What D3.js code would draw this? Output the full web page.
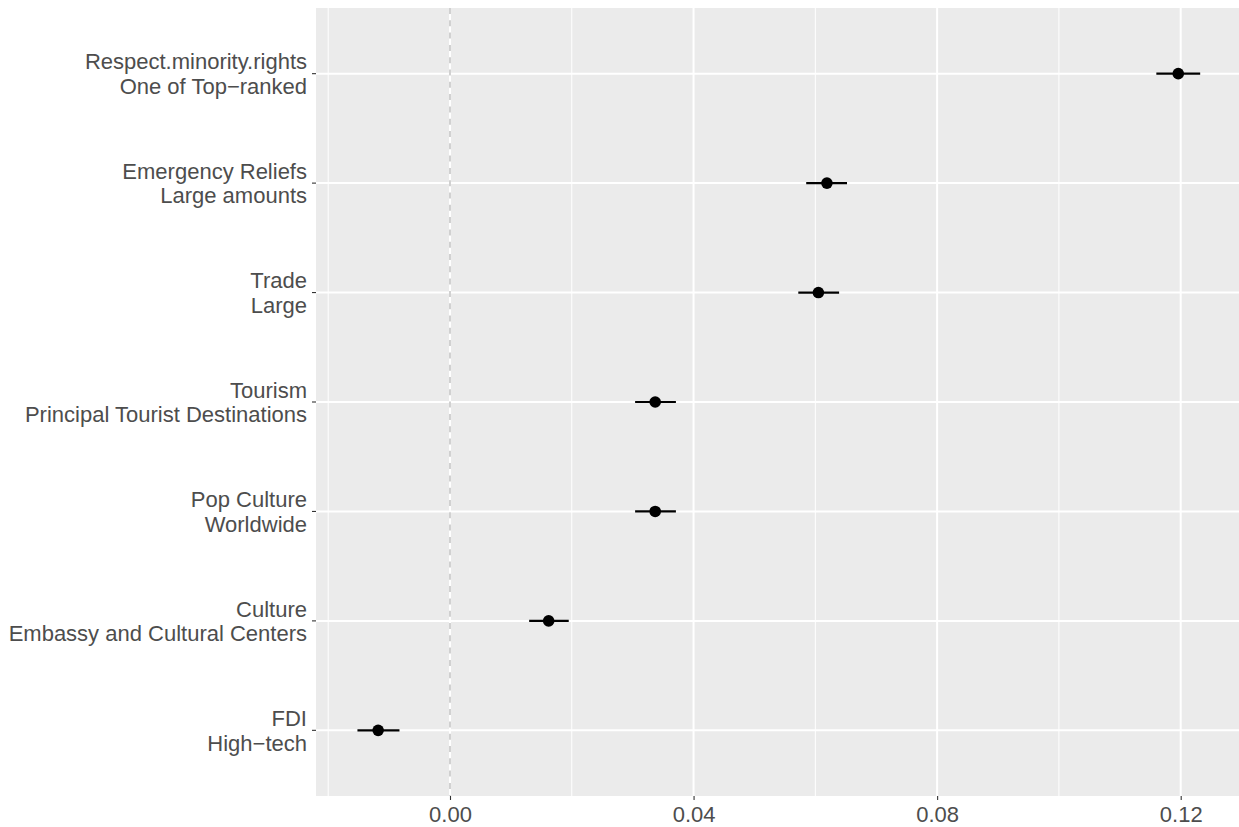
<!DOCTYPE html>
<html>
<head>
<meta charset="utf-8">
<script src="https://cdn.jsdelivr.net/npm/d3@7"></script>
<style>
  html, body { margin: 0; padding: 0; background: #ffffff; }
  svg { display: block; }
</style>
</head>
<body>
<svg id="chart" width="1239" height="827"></svg>
<script>
// Category labels (two lines each), top to bottom
const categories = [
  ["Respect.minority.rights", "One of Top\u2212ranked"],
  ["Emergency Reliefs", "Large amounts"],
  ["Trade", "Large"],
  ["Tourism", "Principal Tourist Destinations"],
  ["Pop Culture", "Worldwide"],
  ["Culture", "Embassy and Cultural Centers"],
  ["FDI", "High\u2212tech"]
];
const estimates = [0.1196, 0.0619, 0.0605, 0.0337, 0.0337, 0.0162, -0.0118];
const lower     = [0.1160, 0.0585, 0.0572, 0.0304, 0.0304, 0.0130, -0.0152];
const upper     = [0.1232, 0.0652, 0.0639, 0.0371, 0.0371, 0.0195, -0.0083];
const majorTicks = [0.00, 0.04, 0.08, 0.12];
const minorTicks = [-0.02, 0.02, 0.06, 0.10];
const tickLabels = ["0.00", "0.04", "0.08", "0.12"];

const svg = d3.select("#chart");
const panel = { left: 316, right: 1239, top: 8, bottom: 796 };

const x = d3.scaleLinear().domain([0, 0.12]).range([450, 1180.7]);
const y = d3.scalePoint()
  .domain(d3.range(categories.length))
  .range([panel.top, panel.bottom])
  .padding(0.6);

const textColor = "#4d4d4d";
const font = "'Liberation Sans', Arial, sans-serif";
const fontSize = "22px";

// panel background
svg.append("rect")
  .attr("x", panel.left).attr("y", panel.top)
  .attr("width", panel.right - panel.left)
  .attr("height", panel.bottom - panel.top)
  .attr("fill", "#ebebeb");

// minor vertical grid
svg.append("g").selectAll("line").data(minorTicks).join("line")
  .attr("x1", d => x(d)).attr("x2", d => x(d))
  .attr("y1", panel.top).attr("y2", panel.bottom)
  .attr("stroke", "#ffffff").attr("stroke-width", 1);

// major vertical grid
svg.append("g").selectAll("line").data(majorTicks).join("line")
  .attr("x1", d => x(d)).attr("x2", d => x(d))
  .attr("y1", panel.top).attr("y2", panel.bottom)
  .attr("stroke", "#ffffff").attr("stroke-width", 2);

// horizontal grid at categories
svg.append("g").selectAll("line").data(y.domain()).join("line")
  .attr("x1", panel.left).attr("x2", panel.right)
  .attr("y1", d => y(d)).attr("y2", d => y(d))
  .attr("stroke", "#ffffff").attr("stroke-width", 2);

// reference line at zero
svg.append("line")
  .attr("x1", x(0)).attr("x2", x(0))
  .attr("y1", panel.top).attr("y2", panel.bottom)
  .attr("stroke", "#b8b8b8").attr("stroke-width", 1.3)
  .attr("stroke-dasharray", "6,6.3");

// error bars
svg.append("g").selectAll("line").data(y.domain()).join("line")
  .attr("x1", i => x(lower[i])).attr("x2", i => x(upper[i]))
  .attr("y1", i => y(i)).attr("y2", i => y(i))
  .attr("stroke", "#000000").attr("stroke-width", 2.2);

// point estimates
svg.append("g").selectAll("circle").data(y.domain()).join("circle")
  .attr("cx", i => x(estimates[i])).attr("cy", i => y(i))
  .attr("r", 5.8).attr("fill", "#000000");

// x axis
const xAxis = d3.axisBottom(x).tickValues(majorTicks)
  .tickFormat((d, i) => tickLabels[i]).tickSize(4).tickPadding(6);
const gx = svg.append("g").attr("transform", `translate(0,${panel.bottom})`).call(xAxis);
gx.select(".domain").remove();
gx.selectAll(".tick line").attr("stroke", "#333333").attr("stroke-width", 1.1);
gx.selectAll(".tick text")
  .attr("fill", textColor).attr("font-family", font).attr("font-size", fontSize)
  .attr("dy", "0.71em");

// y axis ticks
svg.append("g").selectAll("line").data(y.domain()).join("line")
  .attr("x1", panel.left - 4).attr("x2", panel.left)
  .attr("y1", d => y(d)).attr("y2", d => y(d))
  .attr("stroke", "#333333").attr("stroke-width", 1.1);

// y axis labels (two lines, right aligned)
const labels = svg.append("g").selectAll("text").data(y.domain()).join("text")
  .attr("text-anchor", "end")
  .attr("fill", textColor).attr("font-family", font).attr("font-size", fontSize);
labels.append("tspan")
  .attr("x", 307).attr("y", i => y(i) - 4.3)
  .text(i => categories[i][0]);
labels.append("tspan")
  .attr("x", 307).attr("y", i => y(i) + 20.2)
  .text(i => categories[i][1]);
</script>
</body>
</html>
